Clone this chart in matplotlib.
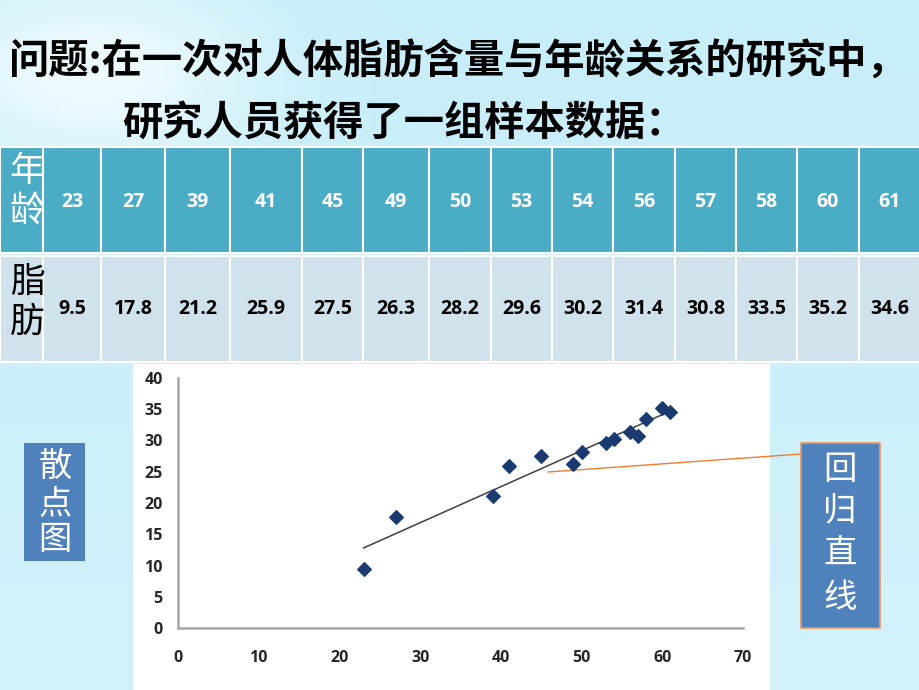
import numpy as np
import matplotlib.pyplot as plt
from matplotlib.patches import Rectangle

# data
ages = [23, 27, 39, 41, 45, 49, 50, 53, 54, 56, 57, 58, 60, 61]
fat = [9.5, 17.8, 21.2, 25.9, 27.5, 26.3, 28.2, 29.6, 30.2, 31.4, 30.8, 33.5, 35.2, 34.6]
x_ticks = [0, 10, 20, 30, 40, 50, 60, 70]
y_ticks = [0, 5, 10, 15, 20, 25, 30, 35, 40]

title_line1 = '问题:在一次对人体脂肪含量与年龄关系的研究中，'
title_line2 = '研究人员获得了一组样本数据：'
row_head_age = '年龄'
row_head_fat = '脂肪'
label_scatter = '散点图'
label_line = '回归直线'

CJK = ['Noto Sans CJK SC', 'DejaVu Sans']
NUM = ['Open Sans', 'DejaVu Sans']

fig = plt.figure(figsize=(9.2, 6.9), dpi=100)

# full-figure pixel axes for background, table and callouts
bg = fig.add_axes([0, 0, 1, 1])
bg.set_xlim(0, 920)
bg.set_ylim(690, 0)
bg.axis('off')

# light cyan background with a soft highlight near the top-left
yy, xx = np.mgrid[0:690:4, 0:920:4]
base = np.array([200, 238, 249]) / 255.0
hi = np.array([238, 251, 254]) / 255.0
w = np.exp(-(((xx - 90) / 160.0) ** 2 + ((yy - 70) / 90.0) ** 2))
w = np.clip(w + 0.25 * (yy / 690.0), 0, 1)
img = base[None, None, :] * (1 - w[..., None]) + hi[None, None, :] * w[..., None]
bg.imshow(img, extent=(0, 920, 690, 0), aspect='auto', zorder=0)

# title
bg.text(8, 62, title_line1, fontsize=29, fontweight='bold', family=CJK,
        ha='left', va='center', color='black')
bg.text(122, 123, title_line2, fontsize=29, fontweight='bold', family=CJK,
        ha='left', va='center', color='black')

# table
col_edges = [0, 43, 101, 165, 230, 302, 363, 429, 491, 552, 613, 675, 736, 797, 859, 920]
r1_top, r1_bot = 147, 253
r2_top, r2_bot = 256, 362
teal = '#4BACC6'
pale = '#D0E2EB'
for i in range(len(col_edges) - 1):
    x0, x1 = col_edges[i], col_edges[i + 1]
    bg.add_patch(Rectangle((x0, r1_top), x1 - x0, r1_bot - r1_top, facecolor=teal,
                           edgecolor='white', linewidth=1.5, zorder=2))
    bg.add_patch(Rectangle((x0, r2_top), x1 - x0, r2_bot - r2_top, facecolor=pale,
                           edgecolor='white', linewidth=1.5, zorder=2))

bg.text(27, 172, row_head_age[0], fontsize=25, family=CJK, color='white', ha='center', va='center', zorder=3)
bg.text(27, 212, row_head_age[1], fontsize=25, family=CJK, color='white', ha='center', va='center', zorder=3)
bg.text(27, 282, row_head_fat[0], fontsize=25, family=CJK, color='black', ha='center', va='center', zorder=3)
bg.text(27, 322, row_head_fat[1], fontsize=25, family=CJK, color='black', ha='center', va='center', zorder=3)

for i, (a, f) in enumerate(zip(ages, fat)):
    cx = (col_edges[i + 1] + col_edges[i + 2]) / 2
    bg.text(cx, 202, str(a), fontsize=14, fontweight='bold', family=NUM,
            color='white', ha='center', va='center', zorder=3)
    bg.text(cx, 309, str(f), fontsize=14, fontweight='bold', family=NUM,
            color='black', ha='center', va='center', zorder=3)

# white chart panel
bg.add_patch(Rectangle((133, 364), 637, 330, facecolor='white', edgecolor='none', zorder=1))

# callout from the regression line to the label box
bg.plot([548, 801], [472, 454], color='#F07D2E', linewidth=1, zorder=3)

# label boxes
bg.add_patch(Rectangle((24, 443), 61, 118, facecolor='#4F81BD', edgecolor='none', zorder=2))
for ch, y in zip(label_scatter, [466, 504, 540]):
    bg.text(55, y, ch, fontsize=24, family=CJK, color='white', ha='center', va='center', zorder=3)

bg.add_patch(Rectangle((801, 443), 79, 185, facecolor='#4F81BD', edgecolor='#F0955A',
                       linewidth=1.2, zorder=2))
for ch, y in zip(label_line, [469, 511, 554, 598]):
    bg.text(840, y, ch, fontsize=24, family=CJK, color='white', ha='center', va='center', zorder=3)

# scatter chart
ax = fig.add_axes([178 / 920, (690 - 628) / 690, (743 - 178) / 920, (628 - 378) / 690])
ax.patch.set_alpha(0)
ax.set_xlim(0, 70)
ax.set_ylim(0, 40)
ax.set_xticks(x_ticks)
ax.set_yticks(y_ticks)
for s in ['top', 'right']:
    ax.spines[s].set_visible(False)
for s in ['left', 'bottom']:
    ax.spines[s].set_color('#A6A6A6')
    ax.spines[s].set_linewidth(1.8)
ax.tick_params(axis='y', length=0, pad=11, labelsize=11.5, labelcolor='#262626')
ax.tick_params(axis='x', length=0, pad=16, labelsize=11.5, labelcolor='#262626')
for lab in ax.get_xticklabels() + ax.get_yticklabels():
    lab.set_fontweight('bold')
    lab.set_family(NUM)

coef = np.polyfit(ages, fat, 1)
xs = np.array([min(ages), max(ages)])
ax.plot(xs, np.polyval(coef, xs), color='#404040', linewidth=1.1, zorder=2)
ax.scatter(ages, fat, marker='D', s=48, color='#1B3A6F', zorder=3, clip_on=False)

fig.savefig('out.png', dpi=100)
